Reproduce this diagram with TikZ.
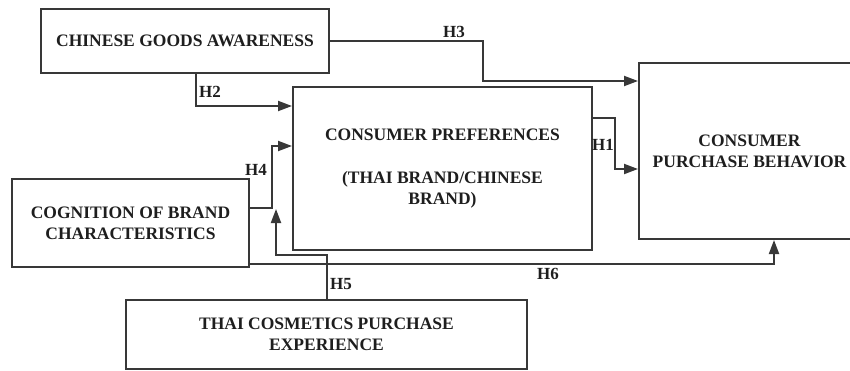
\documentclass[tikz,border=0pt]{standalone}
\usepackage{fontspec}
\setmainfont{Liberation Serif}
\usetikzlibrary{arrows.meta}
\definecolor{linec}{HTML}{383838}
\definecolor{textc}{HTML}{1E1E1E}
\begin{document}
\begin{tikzpicture}[x=1pt,y=-1pt,
  box/.style={draw=linec,line width=2pt,rectangle,inner sep=0pt,align=center,
    text=textc,font=\fontsize{17.5}{21}\selectfont\bfseries},
  arr/.style={draw=linec,line width=2pt,-{Triangle[length=14pt,width=10pt]}},
  lbl/.style={text=textc,font=\fontsize{17}{21}\selectfont\bfseries,inner sep=0pt}]
\useasboundingbox (0,0) rectangle (850,370);
\begin{scope}
\clip (0,0) rectangle (850,370);
\node[box,minimum width=288pt,minimum height=64pt] (CGA) at (185,41) {CHINESE GOODS AWARENESS};
\node[box,minimum width=299pt,minimum height=163pt] (CP) at (442.5,168.5) {CONSUMER PREFERENCES\\[22pt](THAI BRAND/CHINESE\\BRAND)};
\node[box,minimum width=221pt,minimum height=176pt] (CPB) at (749.5,151) {CONSUMER\\PURCHASE BEHAVIOR};
\node[box,minimum width=237pt,minimum height=88pt] (CBC) at (130.5,223) {COGNITION OF BRAND\\CHARACTERISTICS};
\node[box,minimum width=401pt,minimum height=69pt] (TCP) at (326.5,334.5) {THAI COSMETICS PURCHASE\\EXPERIENCE};
\end{scope}
\coordinate (h5tip) at (276,209);
% H2
\draw[arr] ([xshift=11pt]CGA.south) |- ([yshift=62.5pt]CP.west);
% H3
\draw[arr] (CGA.east) -| (483,61) |- ([yshift=70pt]CPB.west);
% H1
\draw[arr] ([yshift=50.5pt]CP.east) -| (615,140) |- ([yshift=-18pt]CPB.west);
% H4
\draw[arr] ([yshift=15pt]CBC.east) -| (272,180) |- ([yshift=22.5pt]CP.west);
% H5
\draw[arr] (TCP.north) |- (300,255) -| (h5tip);
% H6
\draw[arr] ([yshift=-41pt]CBC.east) -| ([xshift=24.5pt]CPB.south);
\node[lbl] (l2) at (210,92) {H2};
\node[lbl] (l3) at (454,32) {H3};
\node[lbl] (l1) at (603,145) {H1};
\node[lbl] (l4) at (256,170) {H4};
\node[lbl] (l5) at (341,284) {H5};
\node[lbl] (l6) at (548,274) {H6};
\end{tikzpicture}
\end{document}
